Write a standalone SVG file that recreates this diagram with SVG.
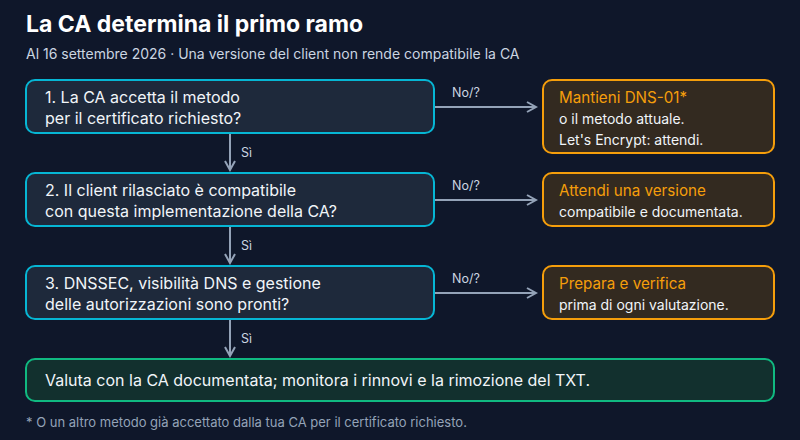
<svg xmlns="http://www.w3.org/2000/svg" width="800" height="440" viewBox="0 0 800 440">
<style>
text{font-family:Inter,"Liberation Sans",sans-serif}
.q{fill:#1e293b;stroke:#06b6d4;stroke-width:2}
.o{fill:#332a20;stroke:#f59e0b;stroke-width:2}
.f{fill:#12302e;stroke:#10b981;stroke-width:2}
.t{fill:#f1f5f9;font-size:16px}
.h{fill:#f59e0b;font-size:15.2px}
.s{fill:#f1f5f9;font-size:14px}
.l{fill:#cbd5e1;font-size:12.5px}
.c{stroke:#94a3b8;stroke-width:2;fill:none;marker-end:url(#a)}
</style>
<defs><marker id="a" markerWidth="12" markerHeight="12" refX="10" refY="6" orient="auto" markerUnits="userSpaceOnUse"><path d="M1,1 L10,6 L1,11" fill="none" stroke="#94a3b8" stroke-width="2"/></marker></defs>
<rect width="800" height="440" fill="#0f172a"/>
<text x="26" y="32" fill="#fff" font-size="23" font-weight="bold">La CA determina il primo ramo</text>
<text x="26" y="59" fill="#cbd5e1" font-size="14">Al 16 settembre 2026 · Una versione del client non rende compatibile la CA</text>
<g id="connectors">
<path class="c" d="M434,107 H536"/><text class="l" x="452" y="97">No/?</text>
<path class="c" d="M434,200 H536"/><text class="l" x="452" y="190">No/?</text>
<path class="c" d="M434,293 H536"/><text class="l" x="452" y="283">No/?</text>
<path class="c" d="M230,134 V170"/><text class="l" x="241" y="157">Sì</text>
<path class="c" d="M230,227 V263"/><text class="l" x="241" y="250">Sì</text>
<path class="c" d="M230,320 V356"/><text class="l" x="241" y="343">Sì</text>
</g>
<g id="n1"><rect class="q" x="26" y="80" width="408" height="53" rx="9"/><text class="t" x="45" y="103">1. La CA accetta il metodo</text><text class="t" x="45" y="124">per il certificato richiesto?</text></g>
<g id="n2"><rect class="q" x="26" y="173" width="408" height="53" rx="9"/><text class="t" x="45" y="196">2. Il client rilasciato è compatibile</text><text class="t" x="45" y="217">con questa implementazione della CA?</text></g>
<g id="n3"><rect class="q" x="26" y="266" width="408" height="53" rx="9"/><text class="t" x="45" y="289">3. DNSSEC, visibilità DNS e gestione</text><text class="t" x="45" y="310">delle autorizzazioni sono pronti?</text></g>
<g id="r1"><rect class="o" x="543" y="80" width="231" height="73" rx="9"/><text class="h" x="559" y="103">Mantieni DNS-01*</text><text class="s" x="559" y="124">o il metodo attuale.</text><text class="s" x="559" y="145" font-size="13">Let's Encrypt: attendi.</text></g>
<g id="r2"><rect class="o" x="543" y="173" width="231" height="53" rx="9"/><text class="h" x="559" y="196">Attendi una versione</text><text class="s" x="559" y="217">compatibile e documentata.</text></g>
<g id="r3"><rect class="o" x="543" y="266" width="231" height="53" rx="9"/><text class="h" x="559" y="289">Prepara e verifica</text><text class="s" x="559" y="310">prima di ogni valutazione.</text></g>
<g id="end"><rect class="f" x="26" y="359" width="748" height="42" rx="9"/><text class="t" x="45" y="386">Valuta con la CA documentata; monitora i rinnovi e la rimozione del TXT.</text></g>
<text x="26" y="427" fill="#94a3b8" font-size="13">* O un altro metodo già accettato dalla tua CA per il certificato richiesto.</text>
</svg>
